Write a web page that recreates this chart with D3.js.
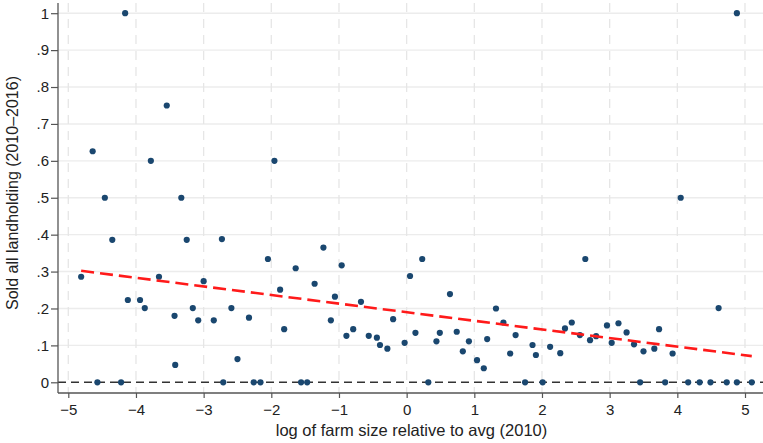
<!doctype html>
<html>
  <head>
    <meta charset="utf-8">
    <script src="https://d3js.org/d3.v7.min.js"></script>
    <style>
      body { margin: 0; background: #fff; }
      text { font-family: "Liberation Sans", Arial, sans-serif; }
    </style>
  </head>
  <body>
    <script>
    // binned means: log farm size vs share that sold all land
    var farmSize = [-4.81, -4.64, -4.46, -4.57, -4.35, -4.22, -4.16, -4.12, -3.94, -3.87,
                    -3.78, -3.66, -3.545, -3.43, -3.42, -3.33, -3.25, -3.16, -3.08, -3.00,
                    -2.85, -2.73, -2.71, -2.59, -2.50, -2.33, -2.26, -2.16, -2.05, -1.954,
                    -1.87, -1.81, -1.64, -1.56, -1.47, -1.36, -1.23, -1.12, -1.06, -0.96,
                    -0.89, -0.79, -0.675, -0.56, -0.44, -0.394, -0.285, -0.20, -0.03, 0.05,
                    0.13, 0.23, 0.32, 0.44, 0.49, 0.64, 0.74, 0.83, 0.92, 1.04,
                    1.14, 1.19, 1.32, 1.43, 1.53, 1.61, 1.75, 1.86, 1.91, 2.01,
                    2.12, 2.27, 2.34, 2.44, 2.56, 2.64, 2.71, 2.80, 2.96, 3.03,
                    3.13, 3.25, 3.36, 3.45, 3.50, 3.66, 3.73, 3.82, 3.93, 4.05,
                    4.16, 4.33, 4.49, 4.61, 4.73, 4.88, 4.88, 5.10];
    var soldAll = [0.286, 0.626, 0.50, 0, 0.386, 0, 1.0, 0.223, 0.223, 0.201,
                   0.60, 0.286, 0.75, 0.18, 0.047, 0.50, 0.386, 0.201, 0.168, 0.274,
                   0.168, 0.388, 0, 0.201, 0.063, 0.175, 0, 0, 0.334, 0.60,
                   0.251, 0.144, 0.309, 0, 0, 0.267, 0.365, 0.168, 0.232, 0.317,
                   0.126, 0.144, 0.218, 0.126, 0.121, 0.101, 0.091, 0.171, 0.107, 0.288,
                   0.134, 0.334, 0, 0.111, 0.134, 0.239, 0.137, 0.084, 0.111, 0.06,
                   0.038, 0.117, 0.20, 0.162, 0.078, 0.128, 0, 0.101, 0.074, 0,
                   0.096, 0.079, 0.146, 0.162, 0.128, 0.334, 0.114, 0.125, 0.154, 0.107,
                   0.16, 0.135, 0.103, 0, 0.084, 0.091, 0.144, 0, 0.078, 0.50,
                   0, 0, 0, 0.201, 0, 0, 1.0, 0];

    // linear fit, end points
    var fitX = [-4.81, 5.10];
    var fitY = [0.302, 0.071];

    var xTicks = [-5, -4, -3, -2, -1, 0, 1, 2, 3, 4, 5];
    var xTickLabels = ["\u22125", "\u22124", "\u22123", "\u22122", "\u22121", "0", "1", "2", "3", "4", "5"];
    var yTicks = [0, 0.1, 0.2, 0.3, 0.4, 0.5, 0.6, 0.7, 0.8, 0.9, 1];
    var yTickLabels = ["0", ".1", ".2", ".3", ".4", ".5", ".6", ".7", ".8", ".9", "1"];

    var width = 763;
    var height = 443;
    var plot = {left: 58, right: 763, top: 3, bottom: 393};

    var x = d3.scaleLinear().domain([-5, 5]).range([68.3, 745]);
    var y = d3.scaleLinear().domain([0, 1]).range([382.3, 13.2]);

    var svg = d3.select("body")
              .append("svg")
              .attr("width", width)
              .attr("height", height);

    // grid
    svg.append("g")
      .selectAll("line")
      .data(yTicks.filter(function(d) { return d > 0; }))
      .join("line")
      .attr("x1", plot.left).attr("x2", plot.right)
      .attr("y1", function(d) { return y(d); })
      .attr("y2", function(d) { return y(d); })
      .attr("stroke", "#ececec")
      .attr("stroke-width", 1.4);

    svg.append("g")
      .selectAll("line")
      .data(xTicks)
      .join("line")
      .attr("x1", function(d) { return x(d); })
      .attr("x2", function(d) { return x(d); })
      .attr("y1", plot.top).attr("y2", plot.bottom)
      .attr("stroke", "#e6e6e6")
      .attr("stroke-width", 1.3)
      .attr("stroke-dasharray", "9,7");

    // zero reference line
    svg.append("line")
      .attr("x1", plot.left).attr("x2", plot.right)
      .attr("y1", y(0)).attr("y2", y(0))
      .attr("stroke", "#333")
      .attr("stroke-width", 1.6)
      .attr("stroke-dasharray", "8,5");

    // axes
    var yAxis = d3.axisLeft(y)
      .tickValues(yTicks)
      .tickSize(7)
      .tickPadding(2)
      .tickFormat(function(d, i) { return yTickLabels[i]; });
    var gy = svg.append("g")
      .attr("transform", "translate(" + plot.left + ",0)")
      .call(yAxis);

    var xAxis = d3.axisBottom(x)
      .tickValues(xTicks)
      .tickSize(5)
      .tickPadding(6)
      .tickFormat(function(d, i) { return xTickLabels[i]; });
    var gx = svg.append("g")
      .attr("transform", "translate(0," + plot.bottom + ")")
      .call(xAxis);

    [gx, gy].forEach(function(g) {
      g.select(".domain").remove();
      g.selectAll(".tick line").attr("stroke", "#555").attr("stroke-width", 1.2);
      g.selectAll(".tick text")
        .attr("fill", "#222")
        .attr("font-size", "15px")
        .attr("font-family", "'Liberation Sans', Arial, sans-serif");
    });

    svg.append("line")
      .attr("x1", plot.left).attr("x2", plot.left)
      .attr("y1", plot.top).attr("y2", plot.bottom)
      .attr("stroke", "#555").attr("stroke-width", 1.3);
    svg.append("line")
      .attr("x1", plot.left).attr("x2", plot.right)
      .attr("y1", plot.bottom).attr("y2", plot.bottom)
      .attr("stroke", "#555").attr("stroke-width", 1.3);

    // points
    svg.append("g")
      .selectAll("circle")
      .data(farmSize)
      .join("circle")
      .attr("cx", function(d) { return x(d); })
      .attr("cy", function(d, i) { return y(soldAll[i]); })
      .attr("r", 3.1)
      .attr("fill", "#1a476f");

    // fitted line
    var line = d3.line()
      .x(function(d) { return x(d); })
      .y(function(d, i) { return y(fitY[i]); });
    svg.append("path")
      .attr("d", line(fitX))
      .attr("fill", "none")
      .attr("stroke", "#ff1a1a")
      .attr("stroke-width", 2.6)
      .attr("stroke-dasharray", "13,6");

    // axis titles
    svg.append("text")
      .attr("x", (plot.left + plot.right) / 2 + 1)
      .attr("y", 436)
      .attr("text-anchor", "middle")
      .attr("font-size", "16.5px")
      .attr("fill", "#222")
      .text("log of farm size relative to avg (2010)");

    svg.append("text")
      .attr("transform", "translate(18,193) rotate(-90)")
      .attr("text-anchor", "middle")
      .attr("font-size", "16px")
      .attr("fill", "#222")
      .text("Sold all landholding (2010\u20132016)");
    </script>
  </body>
</html>
